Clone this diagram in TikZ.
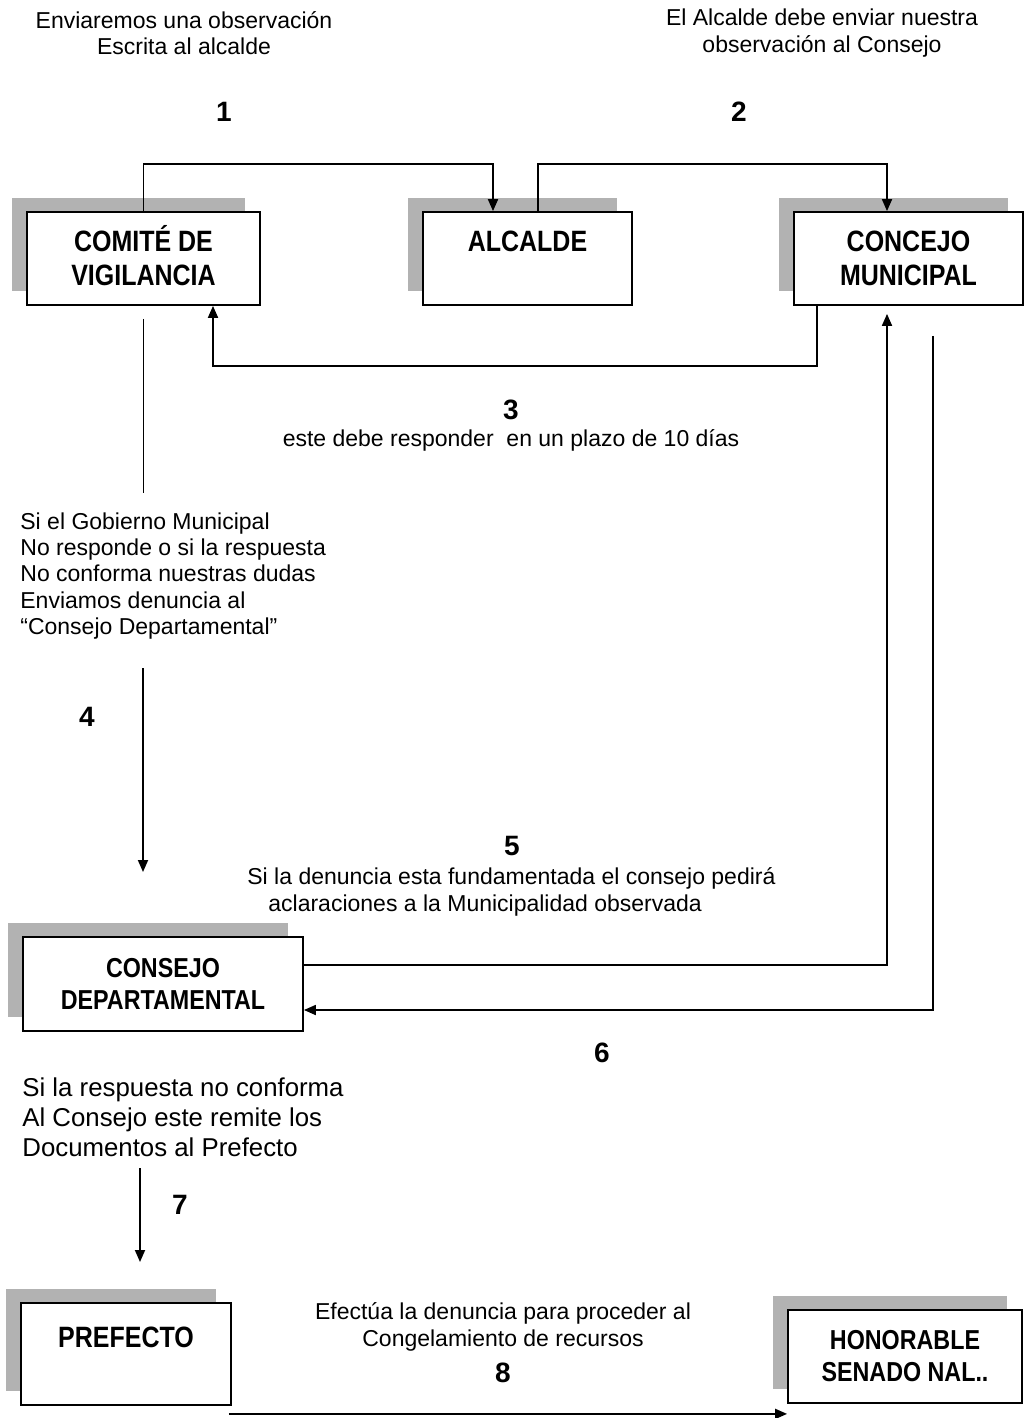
\documentclass[tikz,border=0pt]{standalone}
\usepackage{fontspec}
\setmainfont{Liberation Sans}
\newfontfamily\boxfont[FakeStretch=0.85]{Liberation Sans}
\usetikzlibrary{arrows.meta,shadows}
\definecolor{ShadowGray}{gray}{0.7}

\begin{document}
\begin{tikzpicture}[x=0.5pt,y=-0.5pt]
	  \useasboundingbox (0,0) rectangle (1026,1418);
	  \tikzset{BoxStyle/.style = {draw,
	                              fill           = white,
	                              line width     = 0.9pt,
	                              inner sep      = 0pt,
	                              align          = center,
	                              font           = \boxfont\bfseries\fontsize{14.7}{17}\selectfont,
	                              general shadow = {fill = ShadowGray,
	                                                shadow xshift = -7.5pt,
	                                                shadow yshift = 7pt}}}

	  \tikzset{BoxSmallStyle/.style = {BoxStyle,
	                              font           = \boxfont\bfseries\fontsize{13.7}{16}\selectfont}}

	  \tikzset{EdgeStyle/.style   = {line width = 0.9pt}}
	  \tikzset{ArrowStyle/.style  = {EdgeStyle, -{Triangle[length=6pt,width=5pt]}}}

	  \tikzset{TextStyle/.style   = {inner sep = 0pt,
	                                 align     = center,
	                                 font      = \fontsize{11.5}{13.2}\selectfont}}
	  \tikzset{BigTextStyle/.style = {inner sep = 0pt,
	                                 align     = left,
	                                 font      = \fontsize{12.9}{15}\selectfont}}
	  \tikzset{NumStyle/.style    = {inner sep = 0pt,
	                                 font      = \fontsize{14}{16}\selectfont\bfseries}}

	     \node[BoxStyle, minimum width=116.5pt, minimum height=46.5pt] (B_1) at (143.5,258.5) {COMIT\smash{É} DE\\VIGILANCIA};
	     \node[BoxStyle, minimum width=104.5pt, minimum height=46.5pt] (B_2) at (527.5,258.5) {ALCALDE\\~};
	     \node[BoxStyle, minimum width=114.5pt, minimum height=46.5pt] (B_3) at (908.5,258.5) {CONCEJO\\MUNICIPAL};
	     \node[BoxSmallStyle, minimum width=140pt, minimum height=47pt] (B_4) at (163,984) {CONSEJO\\DEPARTAMENTAL};
	     \node[BoxStyle, minimum width=105pt, minimum height=51pt] (B_5) at (126,1354) {PREFECTO\\~};
	     \node[BoxSmallStyle, minimum width=117pt, minimum height=46.5pt] (B_6) at (905,1356.5) {HONORABLE\\SENADO NAL..};

	     \node[TextStyle] (T_1) at (184,33) {Enviaremos una observación\\Escrita al alcalde};
	     \node[TextStyle] (T_2) at (822,33) {El Alcalde debe enviar nuestra\\observación al Consejo};
	     \node[NumStyle] (N_1) at (224,112) {1};
	     \node[NumStyle] (N_2) at (739,112) {2};
	     \node[NumStyle] (N_3) at (511,410) {3};
	     \node[TextStyle] (T_3) at (511,440) {este debe responder \ en un plazo de 10 días};
	     \node[TextStyle, align=left, anchor=west] (T_4) at (20,576) {Si el Gobierno Municipal\\No responde o si la respuesta\\No conforma nuestras dudas\\Enviamos denuncia al\\“Consejo Departamental”};
	     \node[NumStyle] (N_4) at (87,717) {4};
	     \node[NumStyle] (N_5) at (512,846) {5};
	     \node[TextStyle, align=left, anchor=west] (T_5) at (247,892) {Si la denuncia esta fundamentada el consejo pedirá\\\hspace*{10.5pt}aclaraciones a la Municipalidad observada};
	     \node[NumStyle] (N_6) at (602,1053) {6};
	     \node[BigTextStyle, anchor=west] (T_6) at (22,1117) {Si la respuesta no conforma\\Al Consejo este remite los\\Documentos al Prefecto};
	     \node[NumStyle] (N_7) at (180,1205) {7};
	     \node[TextStyle] (T_7) at (503,1327) {Efectúa la denuncia para proceder al\\Congelamiento de recursos};
	     \node[NumStyle] (N_8) at (503,1373) {8};

	     \coordinate (C_4) at (143,668);
	     \coordinate (C_7) at (140,1168);

	     \draw[ArrowStyle] (B_1.north) -- ++(0,-47) -| ([xshift=-17.25pt]B_2.north);
	     \draw[ArrowStyle] ([xshift=5.25pt]B_2.north) -- ++(0,-47) -| ([xshift=-10.75pt]B_3.north);
	     \draw[ArrowStyle] ([xshift=-45.75pt]B_3.south) -- ++(0,60) -| ([xshift=34.75pt]B_1.south);

	     \draw[EdgeStyle, shorten <=6.5pt] (B_1.south) -- ++(0,187);
	     \draw[ArrowStyle] (C_4) -- ++(0,204);

	     \draw[ArrowStyle, shorten >=4pt] ([yshift=9.5pt]B_4.east) -| ([xshift=-10.75pt]B_3.south);
	     \draw[ArrowStyle, shorten <=15pt] ([xshift=12.25pt]B_3.south) |- ([yshift=-13pt]B_4.east);

	     \draw[ArrowStyle] (C_7) -- ++(0,94);
	     \draw[ArrowStyle] ([shift={(-1.5pt,-4pt)}]B_5.south east) -- ([yshift=-5pt]B_6.south west);

	  \end{tikzpicture}
\end{document}
